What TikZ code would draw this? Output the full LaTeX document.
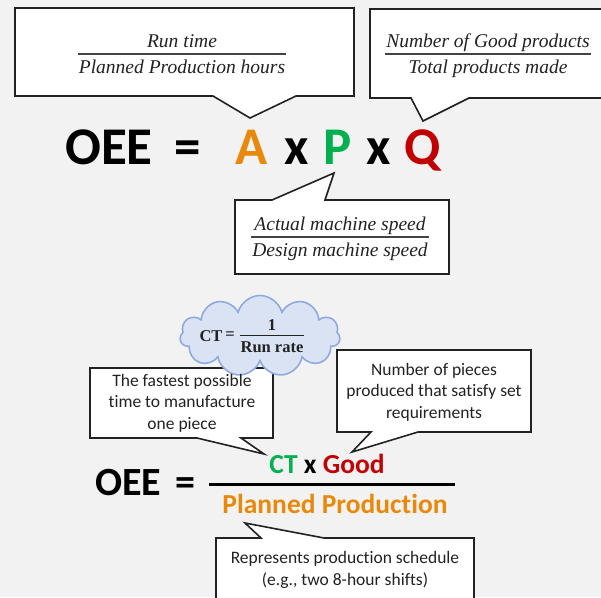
\documentclass[tikz,border=0pt]{standalone}
\usepackage{fontspec}
\setmainfont{Carlito}[Ligatures=NoCommon]
\newfontfamily\fracfont{Liberation Serif}
\usetikzlibrary{shapes.symbols}
\definecolor{bg}{HTML}{F2F2F2}
\definecolor{ink}{HTML}{222222}
\definecolor{aorange}{HTML}{E8890C}
\definecolor{pgreen}{HTML}{00B050}
\definecolor{qred}{HTML}{C00000}
\definecolor{cloudfill}{HTML}{DAE3F3}
\definecolor{cloudline}{HTML}{8FAADC}
\tikzset{
  box/.style={draw=ink, fill=white, line width=1.6pt, line join=miter},
  bar/.style={draw=ink!85, line width=1.3pt},
  frac/.style={font=\fracfont\itshape\fontsize{19.5}{23}\selectfont, text=ink,
    inner xsep=1pt, inner ysep=6.4pt, text height=13pt, text depth=0pt},
  lbl/.style={font=\fontsize{17.5}{21.5}\selectfont, align=center, text=ink, inner sep=0pt},
  big/.style={font=\bfseries\fontsize{53}{60}\selectfont, inner sep=0pt, anchor=base west},
  mid/.style={font=\bfseries\fontsize{27.5}{32}\selectfont, inner sep=0pt, anchor=base},
  puff/.style={cloud, cloud puffs=11, aspect=1.9, draw=cloudline, fill=cloudfill,
    line width=1.6pt, minimum width=160pt, minimum height=81pt, inner sep=0pt},
  ctx/.style={font=\fracfont\bfseries\fontsize{16.5}{19}\selectfont, text=ink, inner sep=0pt}
}

\begin{document}
\begin{tikzpicture}[x=1pt,y=-1pt]
\useasboundingbox (0,0) rectangle (601,597);
\fill[bg] (0,0) rectangle (601,597);

% callouts of the top formula
\draw[box] (15,8) -- (354,8) -- (354,96) -- (296,96) -- (250,118) -- (213,96) -- (15,96) -- cycle;
\draw[box] (370,9) -- (604,9) -- (604,98) -- (469,98) -- (423,121) -- (411,98) -- (370,98) -- cycle;
\draw[box] (235,200) -- (272,200) -- (334,173) -- (325,200) -- (449,200) -- (449,274) -- (235,274) -- cycle;

\node[frac] (rtn) at (182,41) {Run time};
\node[frac] (rtd) at (182,67) {Planned Production hours};
\draw[bar] (rtn.south -| rtd.west) -- (rtn.south -| rtd.east);

\node[frac] (gpn) at (488,41) {Number of Good products};
\node[frac] (gpd) at (488,67) {Total products made};
\draw[bar] (gpn.south west) -- (gpn.south east);

\node[frac] (asn) at (340,224) {Actual machine speed};
\node[frac] (dsd) at (340,250) {Design machine speed};
\draw[bar] (dsd.north west) -- (dsd.north east);

\node[big] (oee) at (65,164) {OEE};
\node[big] (eq) at (174,164) {=};
\node[big, text=aorange] (a) at (235,164) {A};
\node[big] (x1) at (284,164) {x};
\node[big, text=pgreen] (p) at (323,164) {P};
\node[big] (x2) at (366,164) {x};
\node[big, text=qred] (q) at (404,164) {Q};

% callouts of the bottom formula
\draw[box] (90,368) -- (273,368) -- (273,438) -- (241,438) -- (264,454) -- (197,438) -- (90,438) -- cycle;
\draw[box] (337,350) -- (531,350) -- (531,432) -- (418,432) -- (352,452) -- (371,432) -- (337,432) -- cycle;
\draw[box] (216,538) -- (261,538) -- (245,523) -- (324,538) -- (474,538) -- (474,601) -- (216,601) -- cycle;

\node[puff] (ctcloud) at (260,336) {};
\node[ctx] (ct) at (211,336) {CT};
\node[ctx] (cteq) at (230,336) {=};
\node[ctx] (one) at (272,325) {1};
\node[ctx] (rr) at (272,347) {Run rate};
\draw[draw=ink, line width=1pt] (rr.west |- 0,335) -- (rr.east |- 0,335);

\node[lbl] (fast) at (182,403) {The fastest possible\\time to manufacture\\one piece};
\node[lbl] (pcs) at (434,392) {Number of pieces\\produced that satisfy set\\requirements};
\node[lbl] (sched) at (345,570) {Represents production schedule\\(e.g., two 8-hour shifts)};

\node[big, font=\bfseries\fontsize{40}{46}\selectfont] (oee2) at (95,495) {OEE};
\node[big, font=\bfseries\fontsize{40}{46}\selectfont] (eq2) at (175,495) {=};
\node[mid] (ctg) at (327,473) {\textcolor{pgreen}{CT} x \textcolor{qred}{Good}};
\node[mid, text=aorange] (pp) at (335,513) {Planned Production};
\draw[draw=black, line width=3pt] (209,484) -- (455,484);
\end{tikzpicture}
\end{document}
